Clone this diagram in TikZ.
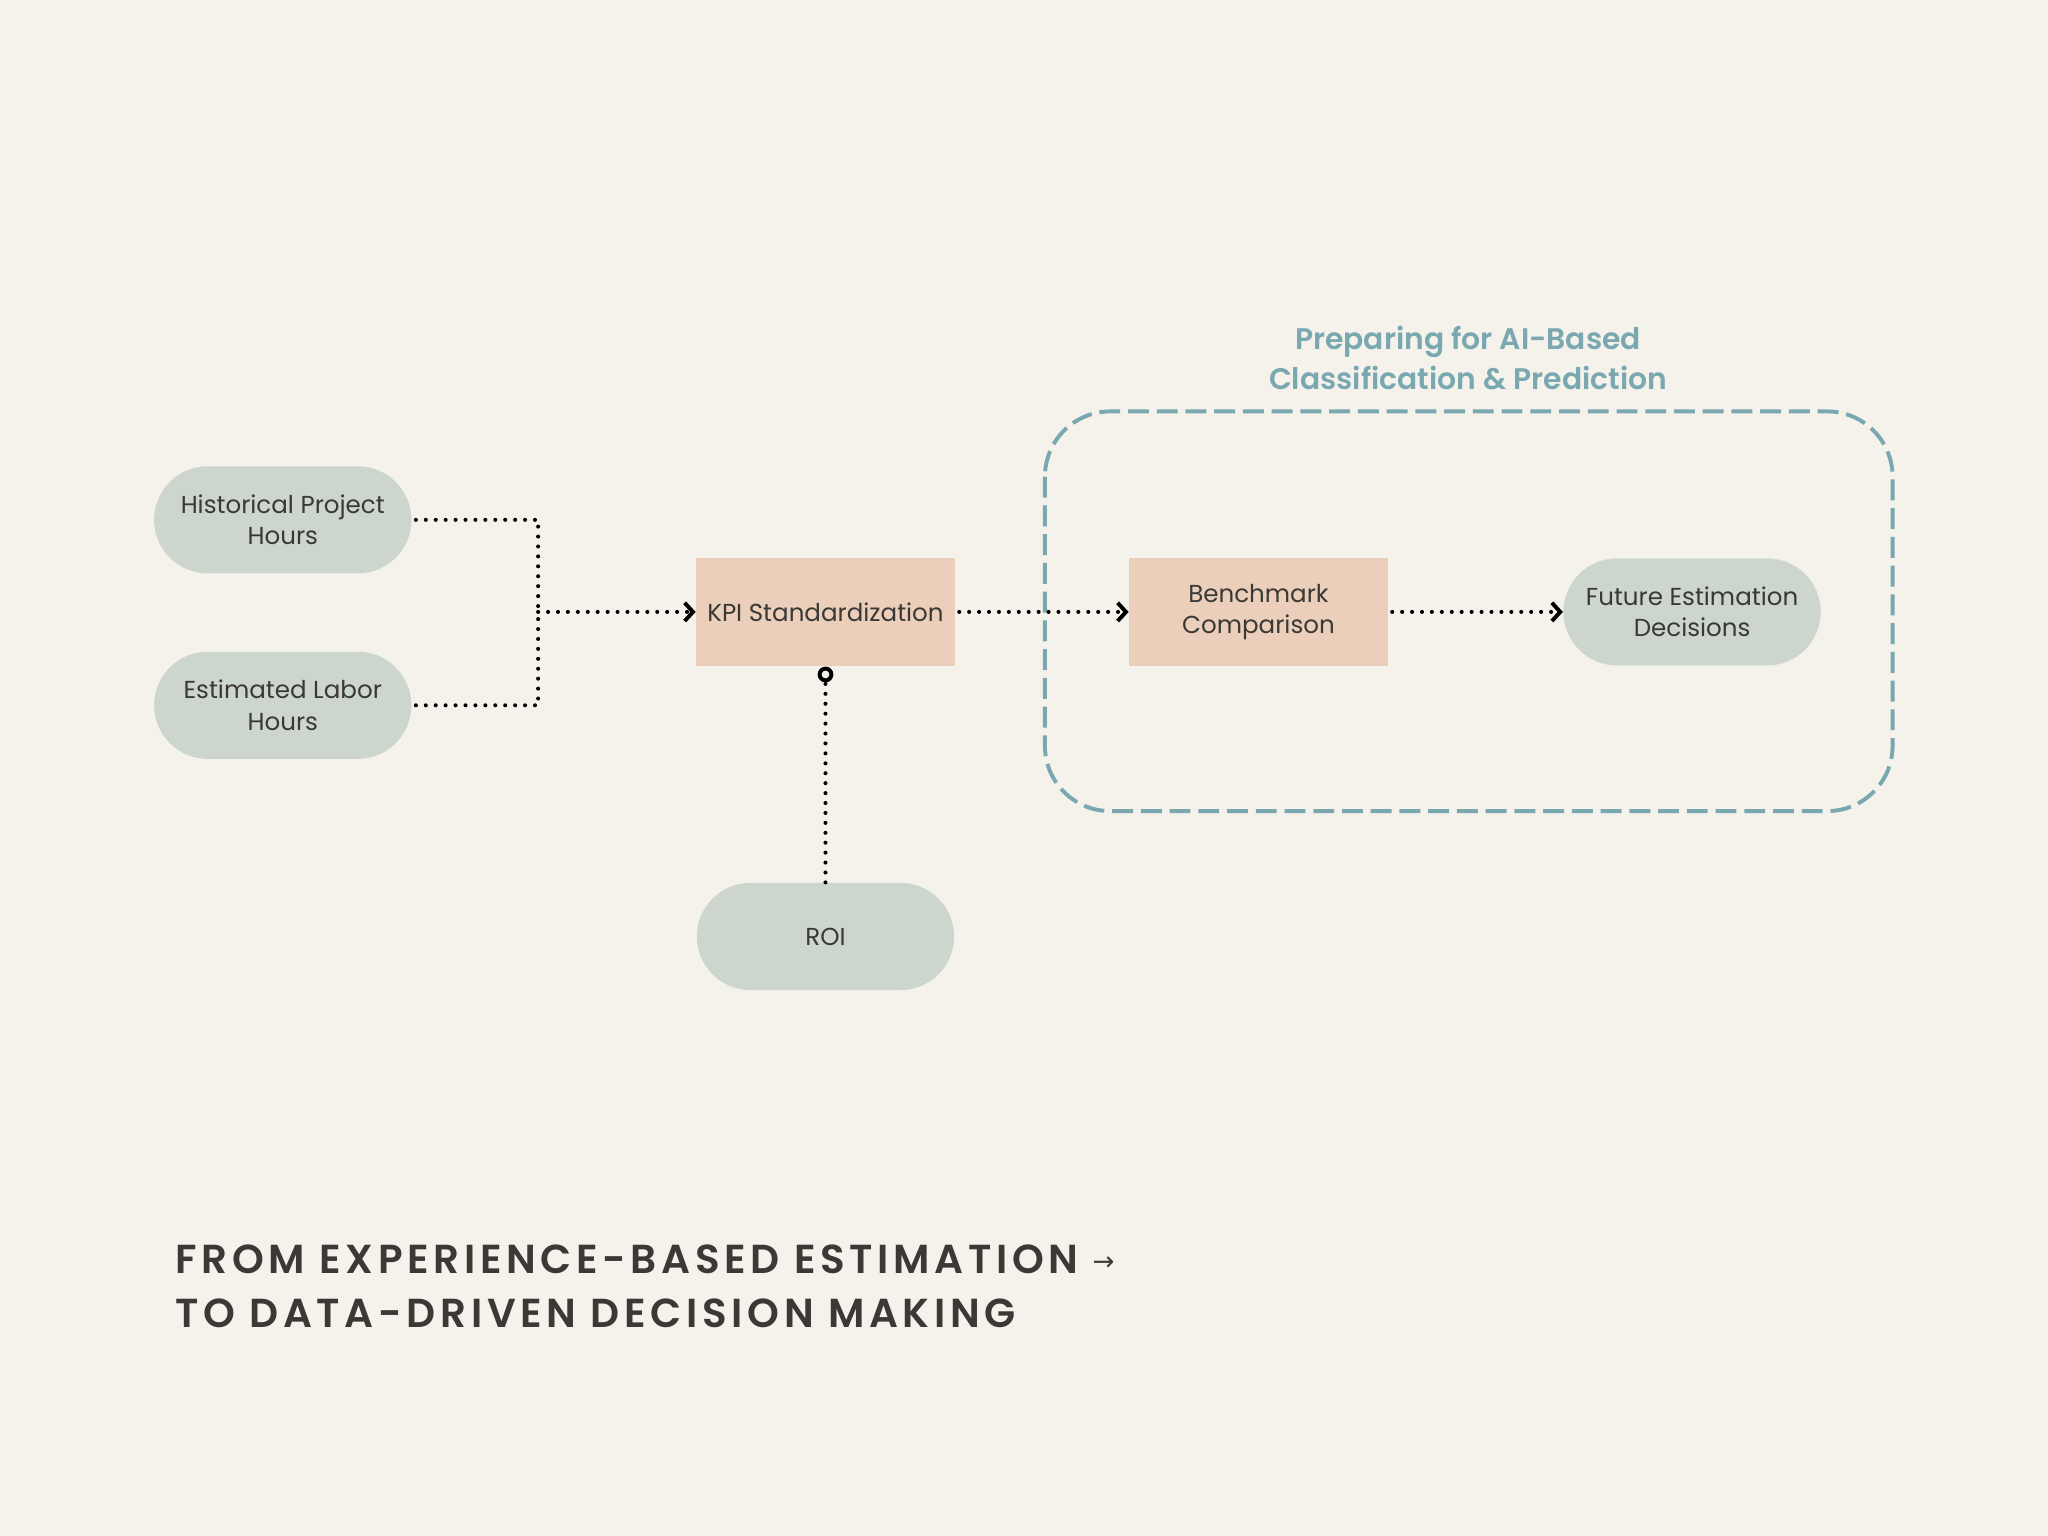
\documentclass[tikz,border=0pt]{standalone}
\usepackage{fontspec}
\setmainfont{Poppins}
\newfontfamily\arrowfont{DejaVu Sans}
\newfontfamily\capsfont[LetterSpace=11.5]{Poppins SemiBold}
\newfontfamily\titlefont{Poppins SemiBold}
\usetikzlibrary{arrows.meta}
\definecolor{bg}{HTML}{F5F1EB}
\definecolor{pillfill}{HTML}{CDD6CD}
\definecolor{boxfill}{HTML}{EBCFBA}
\definecolor{teal}{HTML}{79A8B0}
\definecolor{ink}{HTML}{3A3935}
\tikzset{
  pill/.style={fill=pillfill, rounded corners=20.5pt, minimum width=98.5pt, minimum height=41pt, inner sep=0pt, align=center, text=ink, font=\fontsize{9.4}{12}\selectfont},
  boxnode/.style={fill=boxfill, minimum width=99pt, minimum height=41.5pt, inner sep=0pt, align=center, text=ink, font=\fontsize{9.4}{12}\selectfont},
  dotline/.style={draw=black, line width=1.55pt, line cap=round, dash pattern=on 0pt off 3.8pt},
  chev/.style={-{Straight Barb[length=3.2pt,width=7pt,line width=1.5pt]}},
  groupbox/.style={draw=teal, line width=1.5pt, dash pattern=on 8pt off 3pt, rounded corners=25pt},
}
\begin{document}
\begin{tikzpicture}[x=0.5pt,y=-0.5pt]
\fill[bg] (0,0) rectangle (1568,1176);
\useasboundingbox (0,0) rectangle (1568,1176);

\draw[groupbox] (800,315) rectangle (1449,621);
\node[text=teal, font=\titlefont\fontsize{11.4}{15.5}\selectfont, align=center] (title) at (1124,274) {Preparing for AI-Based\\Classification \& Prediction};

\node[pill] (hist) at (216.5,398) {Historical Project\\Hours};
\node[pill] (est) at (216.5,540) {Estimated Labor\\Hours};
\node[boxnode] (kpi) at (632,468.5) {KPI Standardization};
\node[pill] (roi) at (632,717) {ROI};
\node[boxnode] (bench) at (963.5,468.5) {Benchmark\\Comparison};
\node[pill] (fut) at (1295.5,468.5) {Future Estimation\\Decisions};

\coordinate (jx) at (412,468.5);
\draw[dotline] ([xshift=1.5pt]hist.east) -| (jx);
\draw[dotline] ([xshift=1.5pt]est.east) -| (jx);
\draw[dotline,chev] (jx) -- (kpi.west);
\draw[dotline,chev] ([xshift=1.5pt]kpi.east) -- (bench.west);
\draw[dotline,chev] ([xshift=1.5pt]bench.east) -- (fut.west);
\draw[dotline,-{Circle[open,length=6pt,line width=1.5pt,fill=bg]}] (roi.north) -- (kpi.south);

\node[anchor=west, text=ink, font=\capsfont\fontsize{15.5}{20.5}\selectfont, align=left, inner sep=0pt] (caption) at (134,985) {FROM EXPERIENCE-BASED ESTIMATION \raisebox{1.5pt}{\arrowfont\fontsize{10}{10}\selectfont →}\\TO DATA-DRIVEN DECISION MAKING};
\end{tikzpicture}
\end{document}
